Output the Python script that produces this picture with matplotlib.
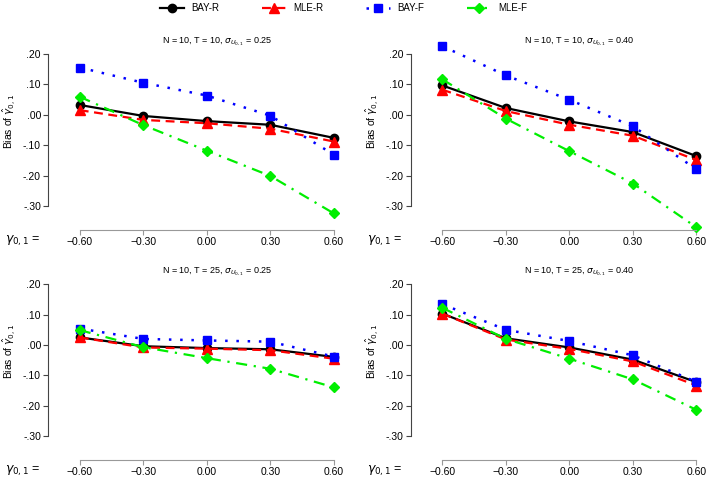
import matplotlib
matplotlib.use("Agg")
import matplotlib.pyplot as plt

plt.rcParams["font.family"] = ["Liberation Sans", "DejaVu Sans"]
plt.rcParams["mathtext.fontset"] = "dejavusans"

gamma = [-0.60, -0.30, 0.00, 0.30, 0.60]
x_labels = ["\u22120.60", "\u22120.30", "0.00", "0.30", "0.60"]
y_ticks = [0.20, 0.10, 0.00, -0.10, -0.20, -0.30]
y_labels = [".20", ".10", ".00", "-.10", "-.20", "-.30"]

titles = [
    r"N = 10, T = 10, $\sigma_{U_{0,1}}$ = 0.25",
    r"N = 10, T = 10, $\sigma_{U_{0,1}}$ = 0.40",
    r"N = 10, T = 25, $\sigma_{U_{0,1}}$ = 0.25",
    r"N = 10, T = 25, $\sigma_{U_{0,1}}$ = 0.40",
]

# bias per panel (order: top-left, top-right, bottom-left, bottom-right)
bay_r = [
    [0.032, -0.004, -0.021, -0.033, -0.076],
    [0.096, 0.022, -0.022, -0.057, -0.136],
    [0.025, -0.004, -0.010, -0.014, -0.039],
    [0.103, 0.022, -0.008, -0.048, -0.122],
]
mle_r = [
    [0.015, -0.017, -0.028, -0.046, -0.088],
    [0.082, 0.012, -0.033, -0.069, -0.149],
    [0.025, -0.008, -0.012, -0.017, -0.045],
    [0.103, 0.018, -0.013, -0.054, -0.133],
]
bay_f = [
    [0.155, 0.105, 0.063, -0.003, -0.131],
    [0.225, 0.129, 0.049, -0.038, -0.179],
    [0.054, 0.020, 0.015, 0.011, -0.038],
    [0.134, 0.050, 0.013, -0.034, -0.121],
]
mle_f = [
    [0.059, -0.034, -0.118, -0.201, -0.324],
    [0.116, -0.013, -0.120, -0.226, -0.370],
    [0.049, -0.007, -0.043, -0.078, -0.139],
    [0.122, 0.020, -0.045, -0.113, -0.213],
]

series = [
    ("BAY-R", bay_r, dict(color="black", ls="-", marker="o", ms=6, lw=1.6)),
    ("MLE-R", mle_r, dict(color="#ff0000", ls=(0, (4, 2.5)), marker="^", ms=6.5, lw=1.6)),
    ("BAY-F", bay_f, dict(color="#0000ff", ls=(0, (1, 3.5)), marker="s", ms=5.5, lw=1.8)),
    ("MLE-F", mle_f, dict(color="#00ee00", ls=(0, (5, 3, 1, 3)), marker="D", ms=5.5, lw=1.6)),
]

W, H = 709, 478
fig = plt.figure(figsize=(W / 100, H / 100), dpi=100)

ax_w, ax_h = 317.5, 184.8
lefts = [48, 410.7]
bottoms = [229.5, 459.8]  # pixel y of x-axis (from top)

axes = []
for r in range(2):
    for c in range(2):
        ax = fig.add_axes([lefts[c] / W, (H - bottoms[r]) / H, ax_w / W, ax_h / H])
        axes.append(ax)

for i, ax in enumerate(axes):
    for name, data, st in series:
        ax.plot(gamma, data[i], label=name, clip_on=False, **st)
    ax.set_xlim(-0.75, 0.75)
    ax.set_ylim(-0.377, 0.23)
    for s in ["top", "right"]:
        ax.spines[s].set_visible(False)
    ax.spines["left"].set_bounds(-0.30, 0.20)
    ax.spines["bottom"].set_bounds(-0.60, 0.60)
    ax.spines["left"].set_color("#444444")
    ax.spines["bottom"].set_color("#999999")
    ax.set_xticks(gamma)
    ax.set_xticklabels(x_labels)
    ax.set_yticks(y_ticks)
    ax.set_yticklabels(y_labels)
    ax.tick_params(axis="y", length=3.6, width=0.8, pad=1.5, labelsize=7.5, color="#444444")
    ax.tick_params(axis="x", length=3.6, width=0.8, pad=1.5, labelsize=7.5, color="#999999")
    ax.text(0.532, 1.015, titles[i], transform=ax.transAxes, ha="center", va="center",
            fontsize=6.5)
    ax.text(-0.122, 0.585, r"Bias of $\hat{\gamma}_{0,1}$", transform=ax.transAxes,
            rotation=90, ha="center", va="center", fontsize=7.5)
    ax.text(-0.025, -0.062, r"$\gamma_{0,1}$ =", transform=ax.transAxes,
            ha="right", va="center", fontsize=9)

handles, labels = axes[0].get_legend_handles_labels()
fig.legend(handles, labels, loc="upper center", bbox_to_anchor=(0.485, 1.012), ncol=4,
           frameon=False, fontsize=7, handlelength=2.4, handletextpad=0.8,
           columnspacing=4.4)

fig.savefig("out.png", dpi=100)
